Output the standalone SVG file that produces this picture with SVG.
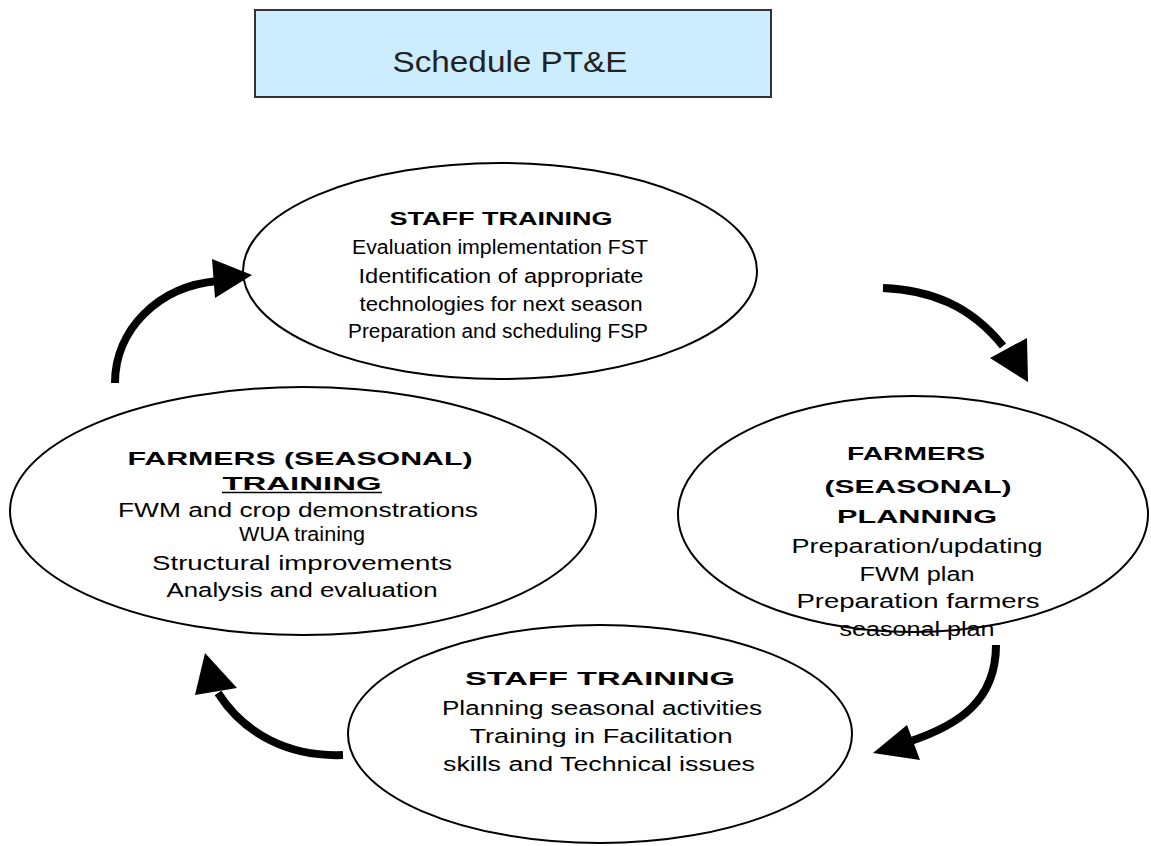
<svg xmlns="http://www.w3.org/2000/svg" width="1151" height="846" viewBox="0 0 1151 846">
<style>
.bg{fill:#ffffff}
.ell{fill:#ffffff;stroke:#000000;stroke-width:2}
.hd{font-family:"Liberation Sans",Arial,sans-serif;font-weight:bold;font-size:18px;fill:#000000;text-anchor:middle}
.tx{font-family:"Liberation Sans",Arial,sans-serif;font-size:20px;fill:#000000;text-anchor:middle}
.title{font-family:"Liberation Sans",Arial,sans-serif;font-size:30px;fill:#222222;text-anchor:middle}
.conn{fill:none;stroke:#000000;stroke-width:8}
.head{fill:#000000;stroke:none}
</style>
<rect class="bg" x="0" y="0" width="1151" height="846"/>
<g id="title">
<rect x="255" y="10" width="516" height="87" fill="#CCECFF" stroke="#333333" stroke-width="2"/>
<text class="title" x="510" y="72" textLength="235" lengthAdjust="spacingAndGlyphs">Schedule PT&amp;E</text>
</g>
<g id="node-staff-training-top">
<ellipse class="ell" cx="500" cy="271" rx="257" ry="108"/>
<text class="hd" x="501" y="225" textLength="223" lengthAdjust="spacingAndGlyphs">STAFF TRAINING</text>
<text class="tx" x="500" y="254" textLength="296" lengthAdjust="spacingAndGlyphs">Evaluation implementation FST</text>
<text class="tx" x="501" y="283" textLength="285" lengthAdjust="spacingAndGlyphs">Identification of appropriate</text>
<text class="tx" x="501" y="311" textLength="283" lengthAdjust="spacingAndGlyphs">technologies for next season</text>
<text class="tx" x="498" y="338" textLength="300" lengthAdjust="spacingAndGlyphs">Preparation and scheduling FSP</text>
</g>
<g id="node-farmers-training">
<ellipse class="ell" cx="303" cy="511" rx="293" ry="124"/>
<text class="hd" x="300" y="465" textLength="345" lengthAdjust="spacingAndGlyphs">FARMERS (SEASONAL)</text>
<text class="hd" x="302" y="490" textLength="159" lengthAdjust="spacingAndGlyphs">TRAINING</text>
<line x1="222" y1="492.5" x2="382" y2="492.5" stroke="#000000" stroke-width="1.5"/>
<text class="tx" x="298" y="517" textLength="360" lengthAdjust="spacingAndGlyphs">FWM and crop demonstrations</text>
<text class="tx" x="302" y="541" font-size="21" textLength="126" lengthAdjust="spacingAndGlyphs">WUA training</text>
<text class="tx" x="302" y="570" textLength="300" lengthAdjust="spacingAndGlyphs">Structural improvements</text>
<text class="tx" x="302" y="597" textLength="271" lengthAdjust="spacingAndGlyphs">Analysis and evaluation</text>
</g>
<g id="node-farmers-planning">
<ellipse class="ell" cx="913" cy="514" rx="235" ry="118"/>
<text class="hd" x="916" y="460" textLength="138" lengthAdjust="spacingAndGlyphs">FARMERS</text>
<text class="hd" x="918" y="493" textLength="187" lengthAdjust="spacingAndGlyphs">(SEASONAL)</text>
<text class="hd" x="917" y="523" textLength="160" lengthAdjust="spacingAndGlyphs">PLANNING</text>
<text class="tx" x="917" y="553" textLength="251" lengthAdjust="spacingAndGlyphs">Preparation/updating</text>
<text class="tx" x="917" y="581" textLength="115" lengthAdjust="spacingAndGlyphs">FWM plan</text>
<text class="tx" x="918" y="608" textLength="243" lengthAdjust="spacingAndGlyphs">Preparation farmers</text>
<text class="tx" x="917" y="636" textLength="155" lengthAdjust="spacingAndGlyphs">seasonal plan</text>
</g>
<g id="node-staff-training-bottom">
<ellipse class="ell" cx="600" cy="734" rx="252" ry="109"/>
<text class="hd" x="600" y="685" textLength="270" lengthAdjust="spacingAndGlyphs">STAFF TRAINING</text>
<text class="tx" x="602" y="715" textLength="320" lengthAdjust="spacingAndGlyphs">Planning seasonal activities</text>
<text class="tx" x="601" y="743" textLength="263" lengthAdjust="spacingAndGlyphs">Training in Facilitation</text>
<text class="tx" x="599" y="771" textLength="312" lengthAdjust="spacingAndGlyphs">skills and Technical issues</text>
</g>
<g id="connectors">
<path class="conn" d="M 115 383 C 115 330 158 286 218 281"/>
<polygon class="head" points="212,259 252,275 215,298"/>
<path class="conn" d="M 883 288 C 930 290 970 305 1003 346"/>
<polygon class="head" points="990,358 1027,338 1028,382"/>
<path class="conn" d="M 996 645 C 996 700 960 725 908 742"/>
<polygon class="head" points="907,725 873,753 920,760"/>
<path class="conn" d="M 343 755 C 290 757 245 735 218 693"/>
<polygon class="head" points="205,653 237,688 195,695"/>
</g>
</svg>
